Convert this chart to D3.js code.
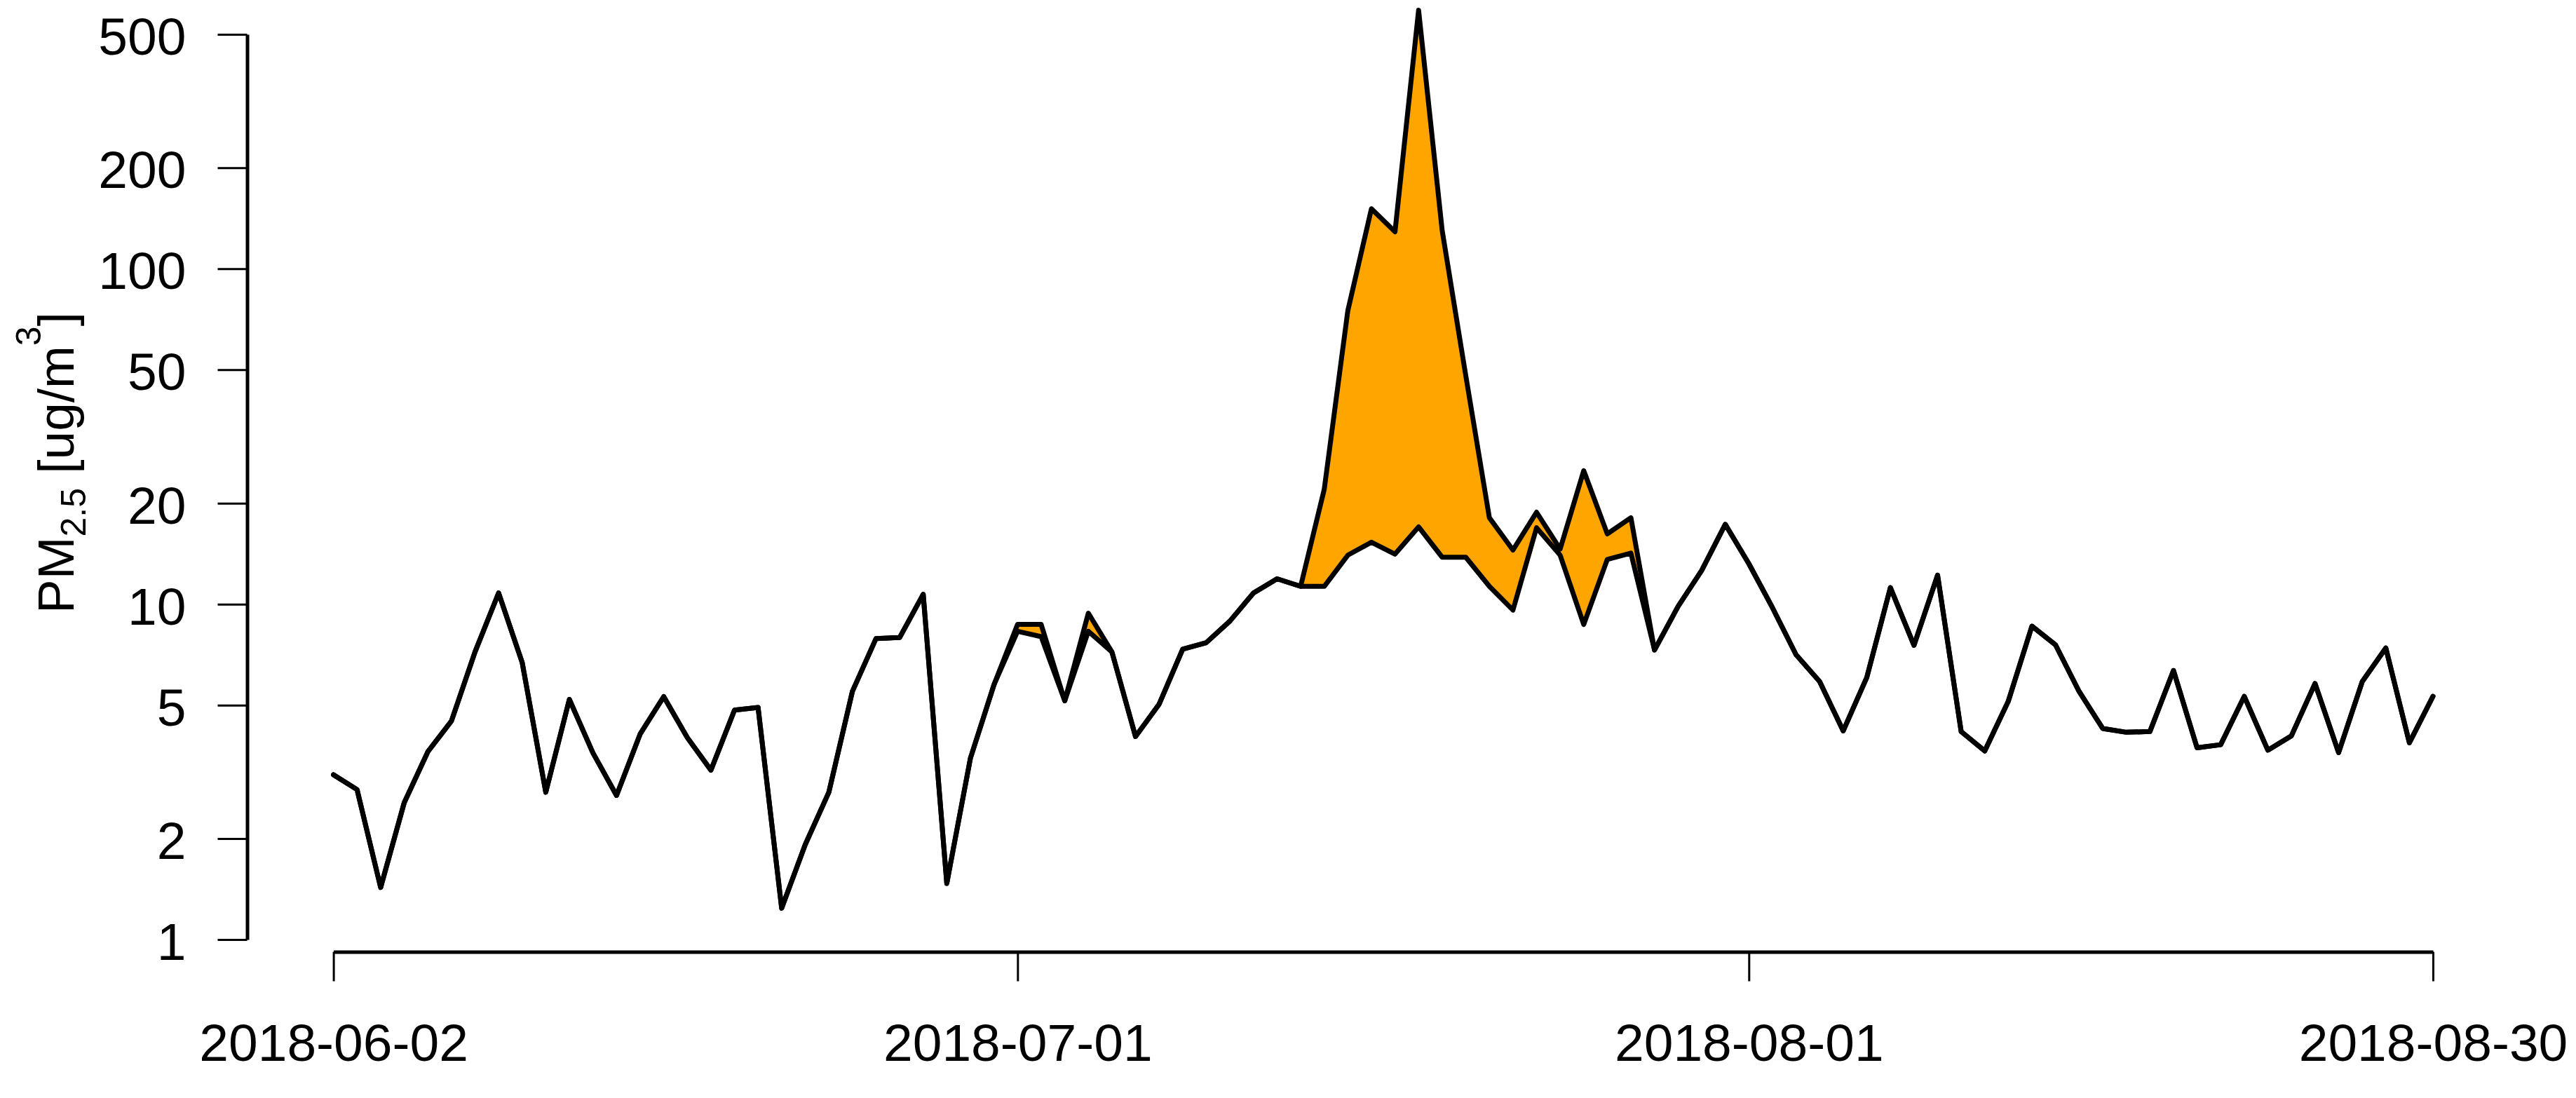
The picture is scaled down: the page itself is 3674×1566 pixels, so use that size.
<!DOCTYPE html>
<html><head><meta charset="utf-8">
<script src="https://cdn.jsdelivr.net/npm/d3@7"></script>
<style>body{margin:0;background:#fff}</style>
</head><body>
<svg id="c" width="3674" height="1566" xmlns="http://www.w3.org/2000/svg"></svg>
<script>
// ---- data ----
const startDate = "2018-06-02";
const endDate = "2018-08-30";
// total PM2.5 (upper line), one value per day
const totalPM = [
  3.1, 2.8, 1.43, 2.56, 3.63, 4.48, 7.2, 10.8, 6.7, 2.75,
  5.2, 3.6, 2.69, 4.1, 5.3, 4.0, 3.2, 4.83, 4.92, 1.24,
  1.92, 2.75, 5.5, 7.9, 7.95, 10.7, 1.47, 3.47, 5.75, 8.7,
  8.7, 5.15, 9.4, 7.2, 4.03, 5.03, 7.34, 7.68, 8.9, 10.8,
  11.9, 11.3, 22, 75, 151, 129, 590, 130, 48, 18.1,
  14.5, 18.8, 14.6, 25, 16.2, 18.1, 7.3, 9.85, 12.6, 17.3,
  13.2, 9.76, 7.07, 5.88, 4.19, 6.05, 11.2, 7.54, 12.2, 4.17,
  3.65, 5.14, 8.6, 7.56, 5.49, 4.26, 4.15, 4.17, 6.34, 3.73,
  3.81, 5.31, 3.67, 4.05, 5.8, 3.61, 5.87, 7.4, 3.86, 5.31
];
// background PM2.5 (lower line)
const backgroundPM = [
  3.1, 2.8, 1.43, 2.56, 3.63, 4.48, 7.2, 10.8, 6.7, 2.75,
  5.2, 3.6, 2.69, 4.1, 5.3, 4.0, 3.2, 4.83, 4.92, 1.24,
  1.92, 2.75, 5.5, 7.9, 7.95, 10.7, 1.47, 3.47, 5.75, 8.3,
  8.0, 5.15, 8.3, 7.2, 4.03, 5.03, 7.34, 7.68, 8.9, 10.8,
  11.9, 11.3, 11.3, 14.0, 15.3, 14.1, 17.0, 13.8, 13.8, 11.3,
  9.6, 16.9, 14.0, 8.7, 13.6, 14.2, 7.3, 9.85, 12.6, 17.3,
  13.2, 9.76, 7.07, 5.88, 4.19, 6.05, 11.2, 7.54, 12.2, 4.17,
  3.65, 5.14, 8.6, 7.56, 5.49, 4.26, 4.15, 4.17, 6.34, 3.73,
  3.81, 5.31, 3.67, 4.05, 5.8, 3.61, 5.87, 7.4, 3.86, 5.31
];
const yTicks = [1, 2, 5, 10, 20, 50, 100, 200, 500];
const xTickLabels = ["2018-06-02", "2018-07-01", "2018-08-01", "2018-08-30"];

// ---- chart ----
const FONT = "'Liberation Sans', Arial, sans-serif";
const parse = d3.utcParse("%Y-%m-%d");
const dates = d3.utcDay.range(parse(startDate), d3.utcDay.offset(parse(endDate), 1));
const rows = dates.map((d, i) => ({date: d, total: totalPM[i], bg: backgroundPM[i]}));

const svg = d3.select("#c");
svg.append("rect").attr("width", 3674).attr("height", 1566).attr("fill", "#fff");

const x = d3.scaleUtc().domain([parse(startDate), parse(endDate)]).range([475.6, 3470]);
const y = d3.scaleLog().domain([1, 500]).range([1340, 49]);

// fill between lines
svg.append("path").datum(rows)
  .attr("fill", "#FFA500")
  .attr("stroke", "#000").attr("stroke-width", 2)
  .attr("d", d3.area().x(d => x(d.date)).y0(d => y(d.bg)).y1(d => y(d.total)));

svg.append("path").datum(rows)
  .attr("fill", "none").attr("stroke", "#000").attr("stroke-width", 7)
  .attr("stroke-linejoin", "round").attr("stroke-linecap", "round")
  .attr("d", d3.line().x(d => x(d.date)).y(d => y(d.bg)));
svg.append("path").datum(rows)
  .attr("fill", "none").attr("stroke", "#000").attr("stroke-width", 7)
  .attr("stroke-linejoin", "round").attr("stroke-linecap", "round")
  .attr("d", d3.line().x(d => x(d.date)).y(d => y(d.total)));

// y axis
const gy = svg.append("g").attr("transform", "translate(352.5,0)")
  .call(d3.axisLeft(y).tickValues(yTicks).tickFormat(d3.format("d"))
    .tickSize(42).tickSizeOuter(0).tickPadding(45));
gy.select(".domain").attr("stroke-width", 5);
gy.selectAll(".tick line").attr("stroke-width", 3);
gy.selectAll(".tick text").attr("font-size", 75).attr("font-family", FONT)
  .attr("fill", "#000").attr("dy", "0.38em");

// x axis
const gx = svg.append("g").attr("transform", "translate(0,1357.5)")
  .call(d3.axisBottom(x).tickValues(xTickLabels.map(parse))
    .tickFormat(d3.utcFormat("%Y-%m-%d")).tickSize(42).tickSizeOuter(0).tickPadding(60));
gx.select(".domain").attr("stroke-width", 5);
gx.selectAll(".tick line").attr("stroke-width", 3);
gx.selectAll(".tick text").attr("font-size", 75).attr("font-family", FONT).attr("fill", "#000");

// y label
const lab = svg.append("text").attr("transform", "translate(105,660) rotate(-90)")
  .attr("text-anchor", "middle").attr("font-size", 73).attr("font-family", FONT).attr("fill", "#000");
lab.append("tspan").text("PM");
lab.append("tspan").attr("font-size", 50).attr("dy", 17).text("2.5");
lab.append("tspan").attr("dy", -17).text(" [ug/m");
lab.append("tspan").attr("font-size", 50).attr("dy", -47).text("3");
lab.append("tspan").attr("dy", 47).text("]");
</script>
</body></html>
